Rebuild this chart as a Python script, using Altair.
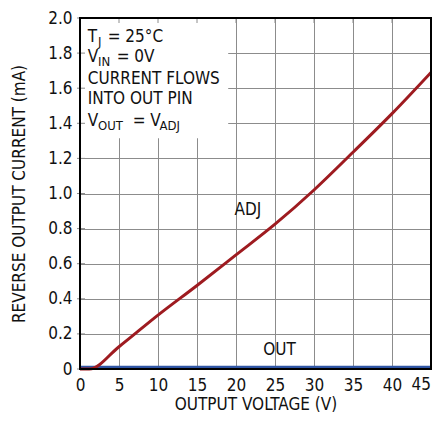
import altair as alt
import pandas as pd

# ---- data ----
adj_v = [0, 1.2, 5, 10, 15, 20, 25, 30, 35, 40, 45]
adj_i = [0, 0, 0.127, 0.307, 0.476, 0.65, 0.825, 1.02, 1.235, 1.455, 1.69]
out_v = [0, 45]
out_i = [0.01, 0.01]

x_ticks = [0, 5, 10, 15, 20, 25, 30, 35, 40, 45]
y_ticks = [0, 0.2, 0.4, 0.6, 0.8, 1.0, 1.2, 1.4, 1.6, 1.8, 2.0]

box_x = [0, 19.0]
box_y = [1.315, 2.0]

# annotation text pieces (text, x, y, font size)
note_text = ["T", "J", "= 25°C",
             "V", "IN", "= 0V",
             "CURRENT FLOWS",
             "INTO OUT PIN",
             "V", "OUT", "= V", "ADJ",
             "ADJ", "OUT"]
note_x = [1.0, 2.3, 3.55,
          1.0, 2.3, 4.7,
          1.0,
          1.0,
          1.0, 2.3, 6.75, 10.2,
          19.8, 23.5]
note_y = [1.863, 1.838, 1.863,
          1.749, 1.726, 1.749,
          1.626,
          1.508,
          1.383, 1.360, 1.383, 1.360,
          0.876, 0.08]
note_size = [17, 13, 17,
             17, 13, 17,
             17,
             17,
             17, 13, 17, 13,
             17, 17]

FONT = "DejaVu Sans Condensed, Liberation Sans Narrow, sans-serif"
LAST_X = x_ticks[-1]

adj_df = pd.DataFrame({"v": adj_v, "i": adj_i})
out_df = pd.DataFrame({"v": out_v, "i": out_i})
box_df = pd.DataFrame({"v": [box_x[0]], "v2": [box_x[1]], "i": [box_y[0]], "i2": [box_y[1]]})
note_df = pd.DataFrame({"t": note_text, "v": note_x, "i": note_y, "s": note_size})
xt_df = pd.DataFrame({"v": x_ticks})
yt_df = pd.DataFrame({"i": y_ticks})
last_df = pd.DataFrame({"v": [LAST_X], "t": [str(LAST_X)]})

xscale = alt.Scale(domain=[0, 45], nice=False, zero=False)
yscale = alt.Scale(domain=[0, 2], nice=False)

xaxis = alt.Axis(values=x_ticks, title="OUTPUT VOLTAGE (V)", grid=True,
                 gridColor="#8c8c8c", gridWidth=1, gridOpacity=1,
                 domain=False, ticks=False, labelFont=FONT, labelFontSize=17,
                 labelColor="#111111", labelPadding=8, labelFlush=False,
                 labelExpr=f"datum.value == {LAST_X} ? '' : datum.label",
                 titleFont=FONT, titleFontSize=17, titleFontWeight="normal",
                 titleColor="#111111", titleBaseline="alphabetic", titleY=40)
yaxis = alt.Axis(values=y_ticks, title="REVERSE OUTPUT CURRENT (mA)", grid=True,
                 gridColor="#8c8c8c", gridWidth=1, gridOpacity=1,
                 domain=False, ticks=False, labelFont=FONT, labelFontSize=17,
                 labelColor="#111111", labelPadding=8, labelFlush=False,
                 labelExpr="datum.value == 0 ? '0' : format(datum.value, '.1f')",
                 titleFont=FONT, titleFontSize=17, titleFontWeight="normal",
                 titleColor="#111111", titlePadding=19)

X = alt.X("v:Q", scale=xscale, axis=xaxis)
Y = alt.Y("i:Q", scale=yscale, axis=yaxis)

out_line = alt.Chart(out_df).mark_line(color="#2f55a4", strokeWidth=3).encode(x=X, y=Y)

adj_line = alt.Chart(adj_df).mark_line(color="#9e1b20", strokeWidth=3,
                                       interpolate="monotone").encode(x=X, y=Y)

box = alt.Chart(box_df).mark_rect(fill="white").encode(
    x=X, x2="v2:Q", y=Y, y2="i2:Q",
)

top_ticks = alt.Chart(xt_df).mark_rule(color="#8c8c8c", strokeWidth=1).encode(
    x=X, y=alt.value(0), y2=alt.value(5),
)
left_ticks = alt.Chart(yt_df).mark_rule(color="#8c8c8c", strokeWidth=1).encode(
    y=Y, x=alt.value(-3), x2=alt.value(5),
)

notes = alt.Chart(note_df).mark_text(align="left", baseline="alphabetic",
                                     font=FONT, color="#111111").encode(
    x=X, y=Y,
    text="t:N",
    size=alt.Size("s:Q", scale=None, legend=None),
)

# last x tick label, right-aligned so it stays inside the page
last_label = alt.Chart(last_df).mark_text(align="right", baseline="top", font=FONT,
                                          fontSize=17, color="#111111").encode(
    x=X, y=alt.value(359), text="t:N",
)

frame = alt.Chart(box_df).mark_rect(fill=None, stroke="black", strokeWidth=2).encode(
    x=alt.value(0), x2=alt.value("width"),
    y=alt.value(0), y2=alt.value("height"),
)

chart = alt.layer(out_line, box, top_ticks, left_ticks, adj_line, notes, last_label,
                  frame).properties(
    width=351, height=351,
    autosize=alt.AutoSizeParams(type="none"),
    padding={"left": 72, "top": 10, "right": 1, "bottom": 44},
).configure_view(stroke=None)

chart.save("out.html", embed_options={"renderer": "svg", "actions": False})
